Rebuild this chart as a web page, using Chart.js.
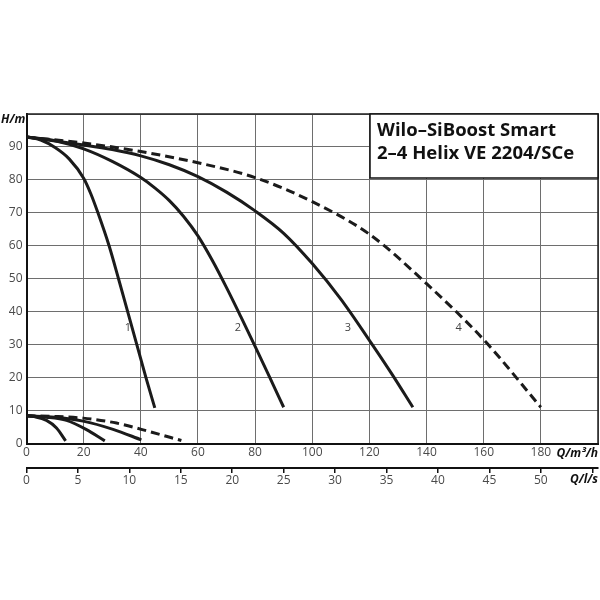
<!DOCTYPE html>
<html>
<head>
<meta charset="utf-8">
<script src="https://cdn.jsdelivr.net/npm/chart.js@4.4.0/dist/chart.umd.min.js"></script>
<style>
html,body{margin:0;padding:0;background:#fff;}
#wrap{width:600px;height:600px;position:relative;}
</style>
</head>
<body>
<div id="wrap"><canvas id="c" width="600" height="600"></canvas></div>
<script>
// ---- data (Q in m³/h, H in m) ----
const CURVE1_Q = [0, 5, 10, 15, 20, 22.5, 25, 28.9, 32.2, 35.4, 38.6, 41.8, 44.9];
const CURVE1_H = [93, 92.1, 89.8, 86.3, 80.5, 75.8, 70, 60, 50, 40, 30, 20, 10.8];
const CURVE2_Q = [0, 10, 20, 30, 40, 45, 50, 55, 60, 65, 70, 75, 80, 85, 90];
const CURVE2_H = [93, 91.9, 89.4, 85.6, 80.7, 77.5, 73.7, 68.9, 63, 55.6, 47.3, 38.5, 29.5, 20.3, 11];
const CURVE3_Q = [0, 20, 30, 40, 50, 60, 70, 80, 90, 100, 110, 120, 128, 135.2];
const CURVE3_H = [93, 90.6, 89.2, 87.3, 84.6, 81, 76.3, 70.6, 63.8, 54.6, 43.8, 31.3, 20.9, 11];
const CURVE4_Q = [0, 20, 40, 60, 80, 100, 120, 140, 160, 180];
const CURVE4_H = [93, 91.2, 88.6, 85.2, 80.7, 73.4, 63.5, 48.5, 31.5, 11];
// low curves (lower head group)
const LOW1_Q = [0, 3, 7, 10.5, 13.7];
const LOW1_H = [8.4, 8.1, 7, 4.7, 0.8];
const LOW2_Q = [0, 7, 14, 21, 27.4];
const LOW2_H = [8.4, 8.0, 7, 4.2, 0.8];
const LOW3_Q = [0, 10, 19.8, 30.3, 40.2];
const LOW3_H = [8.4, 8.0, 6.8, 4.3, 1.1];
const LOW4_Q = [0, 10, 19.8, 31.5, 43.1, 54.2];
const LOW4_H = [8.4, 8.2, 7.7, 6.2, 3.6, 0.9];
// curve number labels [text, Q, H]
const CURVE_LABELS = [["1", 35.5, 35], ["2", 74, 35], ["3", 112.5, 35], ["4", 151.2, 35]];
// axis ticks
const Y_TICKS = [0, 10, 20, 30, 40, 50, 60, 70, 80, 90];
const X_TICKS = [0, 20, 40, 60, 80, 100, 120, 140, 160, 180];
const LS_TICKS = [0, 5, 10, 15, 20, 25, 30, 35, 40, 45, 50];
const TITLE_LINES = ["Wilo–SiBoost Smart", "2–4 Helix VE 2204/SCe"];
const Y_UNIT = "H/m", X_UNIT = "Q/m³/h", X2_UNIT = "Q/l/s";

const pts = (qs, hs) => qs.map((q, i) => ({x: q, y: hs[i]}));
const solid = (qs, hs) => ({data: pts(qs, hs), borderColor: '#1b1b1b', borderWidth: 3, pointRadius: 0, fill: false, cubicInterpolationMode: 'monotone'});
const dashed = (qs, hs) => Object.assign(solid(qs, hs), {borderDash: [9, 5]});

const tickFont = {family: "'Open Sans', sans-serif", size: 12};
const tickColor = '#4a4a4a';

const deco = {
  id: 'deco',
  afterDraw(chart) {
    const ctx = chart.ctx, a = chart.chartArea;
    const xs = chart.scales.x, ys = chart.scales.y, x2 = chart.scales.x2;
    ctx.save();
    // frame top/right
    ctx.strokeStyle = '#222'; ctx.lineWidth = 1.5;
    ctx.beginPath();
    ctx.moveTo(a.left, a.top); ctx.lineTo(a.right, a.top); ctx.lineTo(a.right, a.bottom);
    ctx.stroke();
    // curve labels
    ctx.fillStyle = '#444'; ctx.font = "11px 'Open Sans', sans-serif";
    ctx.textAlign = 'center'; ctx.textBaseline = 'middle';
    CURVE_LABELS.forEach(([t, q, h]) => ctx.fillText(t, xs.getPixelForValue(q), ys.getPixelForValue(h)));
    // unit labels
    ctx.fillStyle = '#111'; ctx.font = "italic bold 12px 'Open Sans', sans-serif";
    ctx.textAlign = 'left'; ctx.textBaseline = 'middle';
    ctx.fillText(Y_UNIT, 1, a.top + 6);
    ctx.textAlign = 'right';
    ctx.fillText(X_UNIT, a.right, xs.top + 10);
    ctx.fillText(X2_UNIT, a.right, x2.top + 12);
    // title box
    const bx = 370, by = a.top, bw = a.right - bx, bh = 64;
    ctx.fillStyle = '#fff'; ctx.fillRect(bx, by, bw, bh);
    ctx.strokeStyle = '#111'; ctx.lineWidth = 1.5;
    ctx.strokeRect(bx, by, bw, bh);
    ctx.fillStyle = '#111'; ctx.font = "bold 18.5px 'Open Sans', sans-serif";
    ctx.textAlign = 'left'; ctx.textBaseline = 'alphabetic';
    ctx.fillText(TITLE_LINES[0], bx + 7, by + 22);
    ctx.fillText(TITLE_LINES[1], bx + 7, by + 45);
    ctx.restore();
  }
};

new Chart(document.getElementById('c'), {
  type: 'line',
  data: {
    datasets: [
      solid(CURVE1_Q, CURVE1_H), solid(CURVE2_Q, CURVE2_H), solid(CURVE3_Q, CURVE3_H), dashed(CURVE4_Q, CURVE4_H),
      solid(LOW1_Q, LOW1_H), solid(LOW2_Q, LOW2_H), solid(LOW3_Q, LOW3_H), dashed(LOW4_Q, LOW4_H)
    ]
  },
  options: {
    responsive: false, animation: false, devicePixelRatio: 1,
    layout: {padding: {top: 114, right: 2, bottom: 107, left: 0}},
    plugins: {legend: {display: false}, tooltip: {enabled: false}},
    scales: {
      x: {
        type: 'linear', position: 'bottom', min: 0, max: 200,
        afterBuildTicks: s => { s.ticks = X_TICKS.concat([200]).map(v => ({value: v})); },
        afterFit: s => { s.height = 24.5; },
        ticks: {font: tickFont, color: tickColor, padding: 2, maxRotation: 0, autoSkip: false,
          callback: v => X_TICKS.includes(v) ? String(v) : ''},
        grid: {color: '#6e6e6e', lineWidth: 1, drawTicks: false},
        border: {color: '#111', width: 2}
      },
      x2: {
        type: 'linear', position: 'bottom', min: 0, max: 200 / 3.6,
        afterBuildTicks: s => { s.ticks = LS_TICKS.concat([55]).map(v => ({value: v})); },
        afterFit: s => { s.height = 25; },
        ticks: {font: tickFont, color: tickColor, padding: 0, maxRotation: 0, autoSkip: false,
          callback: v => LS_TICKS.includes(v) ? String(v) : ''},
        grid: {drawOnChartArea: false, drawTicks: true, tickLength: 5, color: '#111', lineWidth: 1.5},
        border: {color: '#111', width: 2}
      },
      y: {
        type: 'linear', min: 0, max: 100,
        afterBuildTicks: s => { s.ticks = Y_TICKS.concat([100]).map(v => ({value: v})); },
        afterFit: s => { s.width = 26.5; },
        ticks: {font: tickFont, color: tickColor, padding: 4,
          callback: v => Y_TICKS.includes(v) ? String(v) : ''},
        grid: {color: '#6e6e6e', lineWidth: 1, drawTicks: false},
        border: {color: '#111', width: 2}
      }
    }
  },
  plugins: [deco]
});
</script>
</body>
</html>
